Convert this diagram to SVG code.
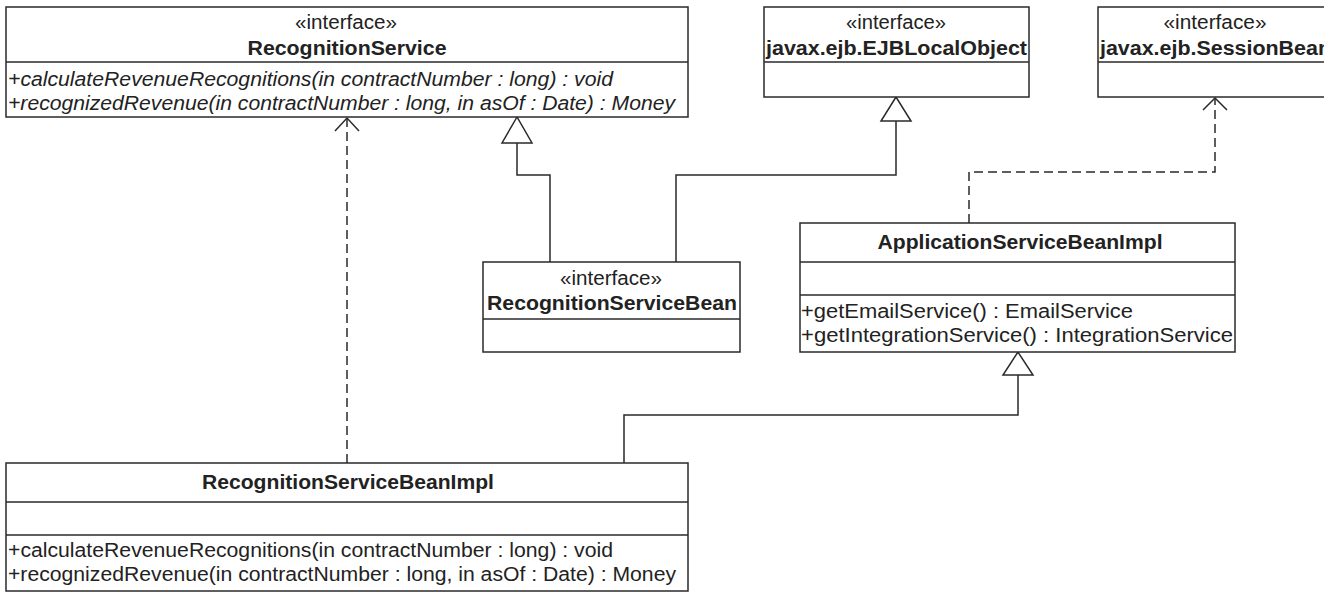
<svg xmlns="http://www.w3.org/2000/svg" width="1324" height="592" viewBox="0 0 1324 592">
<style>
  .box { fill: #ffffff; stroke: #2a2a2a; stroke-width: 1.5; }
  .div { stroke: #2a2a2a; stroke-width: 1.5; fill: none; }
  .t { font-family: "Liberation Sans", Arial, sans-serif; font-size: 20px; fill: #222222; }
  .b { font-weight: bold; }
  .i { font-style: italic; }
  .c { text-anchor: middle; }
  .solid { stroke: #2a2a2a; stroke-width: 1.5; fill: none; }
  .dash { stroke: #2a2a2a; stroke-width: 1.5; fill: none; stroke-dasharray: 9 5; }
  .tri { fill: #ffffff; stroke: #2a2a2a; stroke-width: 1.5; }
  .open { fill: none; stroke: #2a2a2a; stroke-width: 1.5; }
</style>
<rect x="0" y="0" width="1324" height="592" fill="#ffffff"/>

<g id="connectors">
  <path class="dash" d="M347,463 L347,118"/>
  <path class="open" d="M335,131 L347,118 L359,131"/>
  <path class="solid" d="M550,262 L550,175 L517,175 L517,143"/>
  <path class="tri" d="M517,117 L502,143 L532,143 Z"/>
  <path class="solid" d="M676,262 L676,175 L896,175 L896,121"/>
  <path class="tri" d="M896,97 L881,121 L911,121 Z"/>
  <path class="dash" d="M969,223 L969,172 L1215,172 L1215,98"/>
  <path class="open" d="M1203,110 L1215,98 L1227,110"/>
  <path class="solid" d="M624,463 L624,415 L1018,415 L1018,375"/>
  <path class="tri" d="M1018,352 L1003,375 L1033,375 Z"/>
</g>

<g id="RecognitionService">
  <rect class="box" x="6" y="7" width="682" height="110"/>
  <line class="div" x1="6" y1="62" x2="688" y2="62"/>
  <text class="t c" x="346" y="29" textLength="102" lengthAdjust="spacingAndGlyphs">«interface»</text>
  <text class="t b c" x="347" y="55" textLength="199" lengthAdjust="spacingAndGlyphs">RecognitionService</text>
  <text class="t i" x="8" y="86" textLength="605" lengthAdjust="spacingAndGlyphs">+calculateRevenueRecognitions(in contractNumber : long) : void</text>
  <text class="t i" x="8" y="110" textLength="667" lengthAdjust="spacingAndGlyphs">+recognizedRevenue(in contractNumber : long, in asOf : Date) : Money</text>
</g>

<g id="EJBLocalObject">
  <rect class="box" x="764" y="7" width="265" height="90"/>
  <line class="div" x1="764" y1="62" x2="1029" y2="62"/>
  <text class="t c" x="896" y="29" textLength="100" lengthAdjust="spacingAndGlyphs">«interface»</text>
  <text class="t b c" x="896.5" y="55" textLength="261" lengthAdjust="spacingAndGlyphs">javax.ejb.EJBLocalObject</text>
</g>

<g id="SessionBean">
  <rect class="box" x="1098" y="7" width="236" height="90"/>
  <line class="div" x1="1098" y1="62" x2="1334" y2="62"/>
  <text class="t c" x="1215" y="29" textLength="103" lengthAdjust="spacingAndGlyphs">«interface»</text>
  <text class="t b" x="1100" y="55" textLength="231" lengthAdjust="spacingAndGlyphs">javax.ejb.SessionBean</text>
</g>

<g id="RecognitionServiceBean">
  <rect class="box" x="483" y="262" width="257" height="90"/>
  <line class="div" x1="483" y1="319" x2="740" y2="319"/>
  <text class="t c" x="611" y="285" textLength="102" lengthAdjust="spacingAndGlyphs">«interface»</text>
  <text class="t b c" x="612" y="310" textLength="250" lengthAdjust="spacingAndGlyphs">RecognitionServiceBean</text>
</g>

<g id="ApplicationServiceBeanImpl">
  <rect class="box" x="800" y="223" width="435" height="129"/>
  <line class="div" x1="800" y1="262" x2="1235" y2="262"/>
  <line class="div" x1="800" y1="295" x2="1235" y2="295"/>
  <text class="t b c" x="1020" y="249" textLength="285" lengthAdjust="spacingAndGlyphs">ApplicationServiceBeanImpl</text>
  <text class="t" x="801" y="318" textLength="332" lengthAdjust="spacingAndGlyphs">+getEmailService() : EmailService</text>
  <text class="t" x="801" y="342" textLength="432" lengthAdjust="spacingAndGlyphs">+getIntegrationService() : IntegrationService</text>
</g>

<g id="RecognitionServiceBeanImpl">
  <rect class="box" x="6" y="463" width="682" height="128"/>
  <line class="div" x1="6" y1="502" x2="688" y2="502"/>
  <line class="div" x1="6" y1="535" x2="688" y2="535"/>
  <text class="t b c" x="348" y="489" textLength="292" lengthAdjust="spacingAndGlyphs">RecognitionServiceBeanImpl</text>
  <text class="t" x="8" y="557" textLength="605" lengthAdjust="spacingAndGlyphs">+calculateRevenueRecognitions(in contractNumber : long) : void</text>
  <text class="t" x="8" y="581" textLength="668" lengthAdjust="spacingAndGlyphs">+recognizedRevenue(in contractNumber : long, in asOf : Date) : Money</text>
</g>
</svg>
